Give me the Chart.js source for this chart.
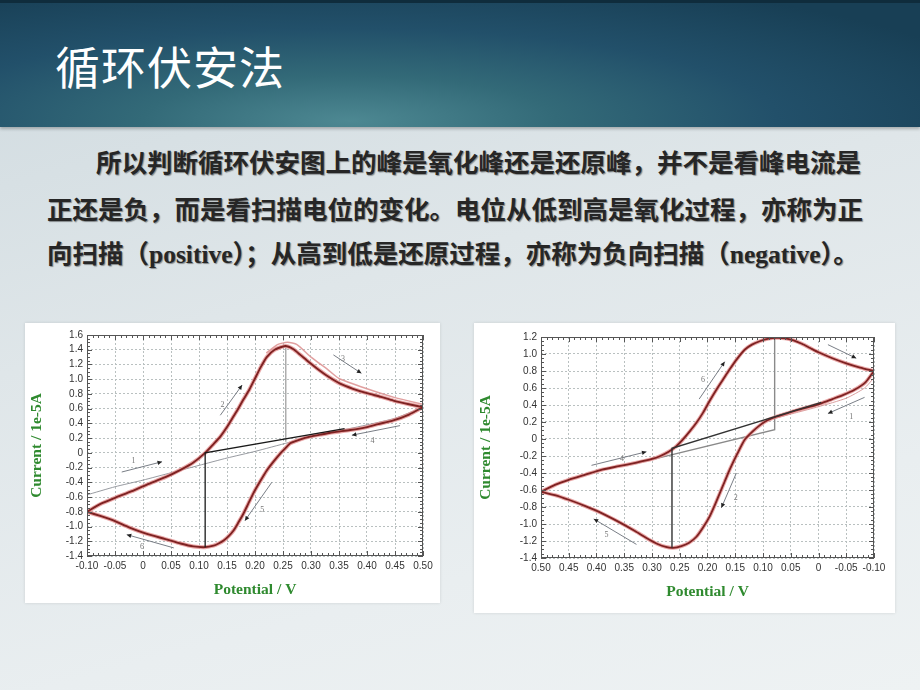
<!DOCTYPE html>
<html>
<head>
<meta charset="utf-8">
<script src="https://cdn.jsdelivr.net/npm/chart.js@4"></script>
<style>
  body { margin:0; background:#fff; }
  #slide { position:relative; width:920px; height:690px; overflow:hidden;
    background:linear-gradient(165deg, #cfdadf 0%, #dfe6e9 40%, #e9eef0 75%, #eef2f3 100%); }
  #header { position:absolute; left:0; top:0; width:920px; height:127px;
    background:radial-gradient(ellipse 75% 120% at 38% 95%, #4d8892 0%, #336a78 30%, #22506a 62%, #183f55 100%);
    border-top:3px solid #0f2c3c; box-sizing:border-box; box-shadow:0 2px 3px rgba(0,0,0,0.25); }
  #title { position:absolute; left:55px; top:35px; font-family:"Noto Sans CJK SC"; font-weight:400;
    font-size:45px; line-height:56px; color:#fff; letter-spacing:1px; }
  .ln { position:absolute; white-space:nowrap; font-family:"Liberation Serif","Noto Sans CJK SC";
    font-weight:700; font-size:25.5px; line-height:30px; color:#262626;
    text-shadow:1px 1px 1px rgba(0,0,0,0.4); }
  .box { position:absolute; background:#fff; box-shadow:0 0 3px rgba(0,0,0,0.12); }
</style>
</head>
<body>
<div id="slide">
  <div id="header"><div id="title">循环伏安法</div></div>
  <div class="ln" style="left:96px;top:149px">所以判断循环伏安图上的峰是氧化峰还是还原峰，并不是看峰电流是</div>
  <div class="ln" style="left:47px;top:196px">正还是负，而是看扫描电位的变化。电位从低到高是氧化过程，亦称为正</div>
  <div class="ln" style="left:47px;top:240px">向扫描（positive）；从高到低是还原过程，亦称为负向扫描（negative）。</div>
  <div class="box" style="left:25px;top:323px;width:415px;height:280px"><canvas id="cv1"></canvas></div>
  <div class="box" style="left:474px;top:323px;width:421px;height:290px"><canvas id="cv2"></canvas></div>
</div>
<script>
// ---- chart 1 (positive scan first) ----
const cv1Fwd = [[-0.10,-0.80],[-0.075,-0.69],[-0.05,-0.61],[-0.02,-0.52],[0.007,-0.43],[0.04,-0.33],[0.067,-0.23],[0.09,-0.13],[0.111,0.0],[0.126,0.12],[0.138,0.22],[0.15,0.35],[0.162,0.50],[0.17,0.60],[0.179,0.72],[0.19,0.86],[0.20,1.01],[0.21,1.16],[0.221,1.30],[0.235,1.40],[0.254,1.45],[0.268,1.41],[0.281,1.33],[0.295,1.24],[0.31,1.15],[0.33,1.04],[0.352,0.94],[0.375,0.87],[0.40,0.81],[0.425,0.76],[0.447,0.71],[0.475,0.66],[0.50,0.62]];
const cv1Rev = [[0.50,0.62],[0.475,0.52],[0.447,0.44],[0.42,0.39],[0.40,0.35],[0.37,0.31],[0.34,0.28],[0.318,0.25],[0.298,0.22],[0.28,0.18],[0.263,0.13],[0.254,0.06],[0.245,-0.01],[0.233,-0.12],[0.221,-0.24],[0.209,-0.39],[0.197,-0.55],[0.188,-0.69],[0.179,-0.83],[0.17,-0.95],[0.162,-1.05],[0.153,-1.13],[0.144,-1.19],[0.135,-1.23],[0.126,-1.26],[0.111,-1.28],[0.09,-1.27],[0.067,-1.23],[0.04,-1.17],[0.007,-1.10],[-0.025,-1.01],[-0.052,-0.92],[-0.075,-0.86],[-0.10,-0.80]];
const cv1Cycle2 = [[0.221,1.36],[0.24,1.47],[0.258,1.50],[0.275,1.47],[0.30,1.30],[0.33,1.13],[0.35,1.01],[0.40,0.87],[0.45,0.75],[0.50,0.66]];
const cv1Initial = [[-0.10,-0.57],[-0.05,-0.46],[0,-0.37],[0.05,-0.27],[0.10,-0.17],[0.15,-0.07],[0.20,0.02],[0.26,0.14],[0.32,0.25],[0.40,0.38],[0.45,0.47],[0.50,0.62]];
const cv1BaseBlack = [[0.111,-1.28],[0.111,0.0],[0.36,0.33]];
const cv1BaseGray = [[0.255,1.45],[0.255,0.15]];
// arrows: x1, y1, x2, y2, label, labelX, labelY
const cv1Arrows = [
  [-0.038,-0.26,0.034,-0.12,'1',-0.017,-0.11],
  [0.138,0.51,0.177,0.92,'2',0.142,0.65],
  [0.34,1.33,0.39,1.08,'3',0.357,1.27],
  [0.459,0.37,0.373,0.24,'4',0.41,0.16],
  [0.23,-0.40,0.182,-0.92,'5',0.213,-0.78],
  [0.055,-1.29,-0.029,-1.11,'6',-0.002,-1.28]
];

// ---- chart 2 (negative scan first) ----
const cv2Upper = [[0.50,-0.62],[0.475,-0.54],[0.45,-0.48],[0.42,-0.42],[0.39,-0.36],[0.36,-0.32],[0.33,-0.28],[0.30,-0.235],[0.285,-0.20],[0.27,-0.15],[0.257,-0.09],[0.245,-0.01],[0.232,0.09],[0.22,0.19],[0.208,0.31],[0.196,0.45],[0.184,0.58],[0.172,0.70],[0.16,0.82],[0.147,0.94],[0.133,1.05],[0.12,1.11],[0.106,1.15],[0.09,1.18],[0.076,1.19],[0.06,1.185],[0.045,1.16],[0.03,1.12],[0.015,1.07],[0,1.02],[-0.025,0.95],[-0.05,0.89],[-0.075,0.84],[-0.10,0.80]];
const cv2Lower = [[-0.10,0.80],[-0.085,0.67],[-0.065,0.58],[-0.045,0.52],[-0.025,0.47],[-0.005,0.42],[0.015,0.38],[0.035,0.345],[0.055,0.305],[0.075,0.265],[0.092,0.22],[0.106,0.16],[0.12,0.08],[0.133,-0.01],[0.146,-0.17],[0.16,-0.36],[0.169,-0.50],[0.178,-0.64],[0.187,-0.78],[0.196,-0.91],[0.208,-1.04],[0.22,-1.15],[0.233,-1.22],[0.247,-1.26],[0.262,-1.28],[0.275,-1.27],[0.29,-1.235],[0.31,-1.165],[0.33,-1.085],[0.36,-0.975],[0.39,-0.875],[0.42,-0.79],[0.45,-0.715],[0.475,-0.66],[0.50,-0.62]];
const cv2Initial = [[0.08,0.24],[0.04,0.31],[0.0,0.38],[-0.05,0.48],[-0.083,0.60],[-0.10,0.72]];
const cv2BaseBlack = [[0.264,-1.28],[0.264,-0.11],[-0.005,0.43]];
const cv2BaseGray = [[0.079,1.19],[0.079,0.11],[0.33,-0.29]];
const cv2Arrows = [
  [-0.017,1.11,-0.068,0.95,'',0,0],
  [-0.083,0.49,-0.017,0.30,'1',-0.059,0.26],
  [0.148,-0.40,0.175,-0.81,'2',0.149,-0.69],
  [0.328,-1.24,0.405,-0.94,'5',0.382,-1.13],
  [0.409,-0.31,0.31,-0.15,'4',0.354,-0.23],
  [0.215,0.47,0.169,0.91,'6',0.208,0.69]
];

const xTicks = { min:-0.10, max:0.50, step:0.05, minor:0.01 };

function pts(arr) { return arr.map(p => ({ x:p[0], y:p[1] })); }

const overlay = {
  id:'overlay',
  afterDatasetsDraw(chart, args, opts) {
    const { ctx, chartArea:a, scales:{ x, y } } = chart;
    ctx.save();
    ctx.strokeStyle = '#555'; ctx.lineWidth = 1;
    ctx.strokeRect(Math.round(a.left)+0.5, Math.round(a.top)+0.5, Math.round(a.width)-1, Math.round(a.height)-1);
    ctx.beginPath();
    for (let v = x.min; v <= x.max + 1e-9; v += xTicks.minor) {
      const px = Math.round(x.getPixelForValue(v)) + 0.5;
      const major = Math.abs(Math.round(v / xTicks.step) * xTicks.step - v) < 1e-6;
      const len = major ? 5 : 3;
      ctx.moveTo(px, a.bottom); ctx.lineTo(px, a.bottom - len);
      ctx.moveTo(px, a.top); ctx.lineTo(px, a.top + len);
    }
    for (let v = y.min; v <= y.max + 1e-9; v += 0.05) {
      const py = Math.round(y.getPixelForValue(v)) + 0.5;
      const major = Math.abs(Math.round(v / 0.2) * 0.2 - v) < 1e-6;
      const len = major ? 5 : 3;
      ctx.moveTo(a.left, py); ctx.lineTo(a.left + len, py);
      ctx.moveTo(a.right, py); ctx.lineTo(a.right - len, py);
    }
    ctx.stroke();
    // scan direction arrows
    (opts.arrows || []).forEach(r => {
      const x1 = x.getPixelForValue(r[0]), y1 = y.getPixelForValue(r[1]);
      const x2 = x.getPixelForValue(r[2]), y2 = y.getPixelForValue(r[3]);
      ctx.strokeStyle = '#6a6f78'; ctx.lineWidth = 0.9;
      ctx.beginPath(); ctx.moveTo(x1, y1); ctx.lineTo(x2, y2); ctx.stroke();
      const ang = Math.atan2(y2 - y1, x2 - x1);
      ctx.fillStyle = '#222';
      ctx.beginPath();
      ctx.moveTo(x2, y2);
      ctx.lineTo(x2 - 5 * Math.cos(ang - 0.45), y2 - 5 * Math.sin(ang - 0.45));
      ctx.lineTo(x2 - 5 * Math.cos(ang + 0.45), y2 - 5 * Math.sin(ang + 0.45));
      ctx.closePath(); ctx.fill();
      if (r[4]) {
        ctx.fillStyle = '#777'; ctx.font = '8px "Liberation Serif"';
        ctx.textAlign = 'center'; ctx.textBaseline = 'middle';
        ctx.fillText(r[4], x.getPixelForValue(r[5]), y.getPixelForValue(r[6]));
      }
    });
    ctx.restore();
  }
};

// order: lower number is drawn on top
function line(data, color, width, order) {
  return { data: pts(data), borderColor: color, borderWidth: width, showLine: true, order,
           pointRadius: 0, tension: 0.2, fill: false, borderCapStyle: 'round', borderJoinStyle: 'round' };
}
function straight(data, color, width, order) {
  return { data: pts(data), borderColor: color, borderWidth: width, showLine: true, order,
           pointRadius: 0, tension: 0, fill: false };
}

function makeChart(id, datasets, reverse, yMin, yMax, arrows, yW, xH, pad, titlePad) {
  const green = '#2f8a2f';
  return new Chart(document.getElementById(id), {
    type: 'scatter',
    data: { datasets },
    options: {
      responsive: true, maintainAspectRatio: false, animation: false,
      layout: { padding: pad },
      plugins: { legend: { display:false }, tooltip: { enabled:false }, overlay: { arrows } },
      scales: {
        x: {
          type: 'linear', min: xTicks.min, max: xTicks.max, reverse,
          afterFit: s => { s.height = xH; },
          ticks: { stepSize: xTicks.step, color:'#333', padding: 4, maxRotation: 0, autoSkip: false,
                   font: { family:'Liberation Sans', size: 10 },
                   callback: v => Math.abs(v) < 1e-9 ? '0' : v.toFixed(2) },
          grid: { color:'#b9c0c0', lineWidth: 1, tickLength: 0 },
          border: { display: false, dash: [2, 2] },
          title: { display: true, text: 'Potential / V', color: green, padding: { top: 0, bottom: titlePad },
                   font: { family:'Liberation Serif', size: 15.5, weight:'bold' } }
        },
        y: {
          min: yMin, max: yMax,
          afterFit: s => { s.width = yW; },
          ticks: { stepSize: 0.2, color:'#333', padding: 4, autoSkip: false,
                   font: { family:'Liberation Sans', size: 10 },
                   callback: v => Math.abs(v) < 1e-9 ? '0' : v.toFixed(1) },
          grid: { color:'#b9c0c0', lineWidth: 1, tickLength: 0 },
          border: { display: false, dash: [2, 2] },
          title: { display: true, text: 'Current / 1e-5A', color: green, padding: { top: 3, bottom: 0 },
                   font: { family:'Liberation Serif', size: 15.5, weight:'bold' } }
        }
      }
    },
    plugins: [overlay]
  });
}

const halo = 'rgba(228,145,145,0.8)';
const core = '#7e2222';

makeChart('cv1', [
  straight(cv1BaseBlack, '#1a1a1a', 1.3, 1),
  line(cv1Fwd, core, 1.9, 2),
  line(cv1Rev, core, 1.9, 2),
  line(cv1Fwd, halo, 4, 3),
  line(cv1Rev, halo, 4, 3),
  line(cv1Cycle2, 'rgba(222,150,150,0.9)', 1.5, 4),
  straight(cv1BaseGray, '#9a9a9a', 1.2, 5),
  line(cv1Initial, '#8c9096', 0.9, 6)
], false, -1.4, 1.6, cv1Arrows, 62, 47, { top: 12, right: 17, left: 0, bottom: 0 }, 4);

makeChart('cv2', [
  straight(cv2BaseBlack, '#333', 1.4, 1),
  line(cv2Upper, core, 1.8, 2),
  line(cv2Lower, core, 1.8, 2),
  line(cv2Upper, halo, 3.8, 3),
  line(cv2Lower, halo, 3.8, 3),
  straight(cv2BaseGray, '#8a8a8a', 1.4, 4),
  line(cv2Initial, 'rgba(215,150,150,0.9)', 1, 5)
], true, -1.4, 1.2, cv2Arrows, 67, 55, { top: 14, right: 21, left: 0, bottom: 0 }, 12);
</script>
</body>
</html>
